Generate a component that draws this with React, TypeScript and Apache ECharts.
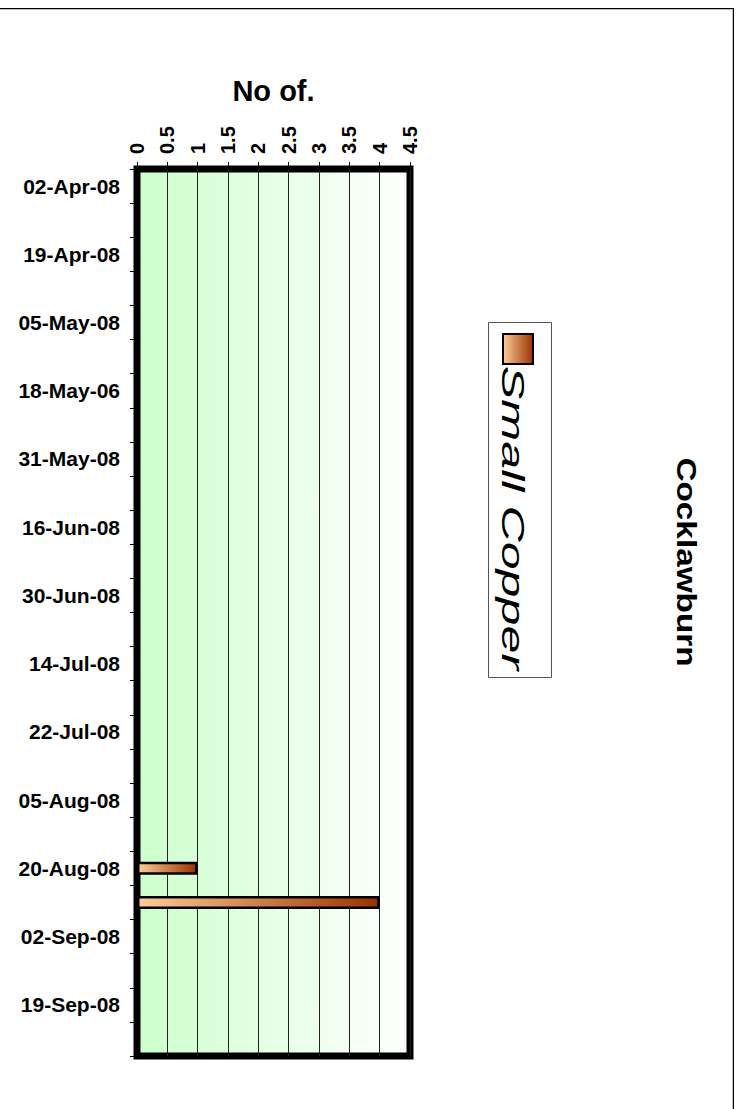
import React, { useEffect, useRef } from "react";
import * as echarts from "echarts";

// Survey dates (every other date is unlabelled on the axis)
const categories: string[] = [
  "02-Apr-08", "", "19-Apr-08", "", "05-May-08", "", "18-May-06", "",
  "31-May-08", "", "16-Jun-08", "", "30-Jun-08", "", "14-Jul-08", "",
  "22-Jul-08", "", "05-Aug-08", "", "20-Aug-08", "", "02-Sep-08", "",
  "19-Sep-08", "",
];

// Counts of Small Copper per survey
const smallCopper: number[] = [
  0, 0, 0, 0, 0, 0, 0, 0,
  0, 0, 0, 0, 0, 0, 0, 0,
  0, 0, 0, 0, 1, 4, 0, 0,
  0, 0,
];

const seriesName = "Small Copper";
const siteName = "Cocklawburn";
const valueAxisTitle = "No of.";
const valueMin = 0;
const valueMax = 4.5;
const valueStep = 0.5;

const FONT = 'Arial, "Liberation Sans", sans-serif';

const copperGradient = () =>
  new echarts.graphic.LinearGradient(0, 0, 1, 0, [
    { offset: 0, color: "#ffcc99" },
    { offset: 1, color: "#993300" },
  ]);

export default function App() {
  const ref = useRef<HTMLDivElement>(null);

  useEffect(() => {
    if (!ref.current) return;
    const chart = echarts.init(ref.current, undefined, { renderer: "svg" });

    const option: echarts.EChartsOption = {
      animation: false,
      backgroundColor: "#ffffff",
      grid: {
        left: 137,
        top: 169,
        width: 273,
        height: 887,
        show: true,
        borderColor: "#000000",
        borderWidth: 7,
        backgroundColor: new echarts.graphic.LinearGradient(0, 0, 1, 0, [
          { offset: 0, color: "#ccffcc" },
          { offset: 1, color: "#ffffff" },
        ]) as any,
        containLabel: false,
      },
      xAxis: {
        type: "value",
        position: "top",
        min: valueMin,
        max: valueMax,
        interval: valueStep,
        axisLine: { show: true, lineStyle: { color: "#000", width: 1 } },
        axisTick: { show: true, length: 7, lineStyle: { color: "#000" } },
        axisLabel: {
          rotate: -90,
          margin: 15,
          color: "#000",
          fontFamily: FONT,
          fontWeight: "bold",
          fontSize: 20,
        },
        splitLine: { show: true, lineStyle: { color: "#222", width: 1 } },
      },
      yAxis: {
        type: "category",
        data: categories,
        inverse: true,
        axisLine: { show: true, lineStyle: { color: "#000", width: 1 } },
        axisTick: {
          show: true,
          length: 7,
          interval: 0,
          alignWithLabel: false,
          lineStyle: { color: "#000" },
        },
        axisLabel: {
          interval: 1,
          margin: 17,
          color: "#000",
          fontFamily: FONT,
          fontWeight: "bold",
          fontSize: 21,
        },
        splitLine: { show: false },
      },
      series: [
        {
          name: seriesName,
          type: "bar",
          data: smallCopper,
          barWidth: 13,
          itemStyle: {
            color: copperGradient() as any,
            borderColor: "#000",
            borderWidth: 2.5,
          },
        },
      ],
      graphic: [
        // outer frame
        {
          type: "line",
          shape: { x1: 0, y1: 8.5, x2: 734, y2: 8.5 },
          style: { stroke: "#000", lineWidth: 1 },
        },
        {
          type: "line",
          shape: { x1: 0, y1: 9.5, x2: 733, y2: 9.5 },
          style: { stroke: "#c0c0c0", lineWidth: 1 },
        },
        {
          type: "line",
          shape: { x1: 733.5, y1: 8, x2: 733.5, y2: 1109 },
          style: { stroke: "#000", lineWidth: 1 },
        },
        {
          type: "line",
          shape: { x1: 732.5, y1: 10, x2: 732.5, y2: 1109 },
          style: { stroke: "#c0c0c0", lineWidth: 1 },
        },
        // value axis title
        {
          type: "text",
          x: 273.5,
          y: 91,
          style: {
            text: valueAxisTitle,
            align: "center",
            verticalAlign: "middle",
            fontFamily: FONT,
            fontWeight: "bold",
            fontSize: 29,
            fill: "#000",
          },
        },
        // legend box
        {
          type: "rect",
          shape: { x: 488.5, y: 322.5, width: 63, height: 355 },
          style: { fill: "#fff", stroke: "#555", lineWidth: 1 },
        },
        {
          type: "rect",
          shape: { x: 503, y: 334, width: 30, height: 30 },
          style: { fill: copperGradient() as any, stroke: "#000", lineWidth: 2 },
        },
        {
          type: "text",
          x: 513.5,
          y: 518,
          rotation: -Math.PI / 2,
          scaleX: 1.57,
          style: {
            text: seriesName,
            align: "center",
            verticalAlign: "middle",
            fontFamily: FONT,
            fontStyle: "italic",
            fontSize: 32,
            fill: "#000",
          },
        },
        // site name
        {
          type: "text",
          x: 687,
          y: 562,
          rotation: -Math.PI / 2,
          scaleX: 1.19,
          style: {
            text: siteName,
            align: "center",
            verticalAlign: "middle",
            fontFamily: FONT,
            fontWeight: "bold",
            fontSize: 28,
            fill: "#000",
          },
        },
      ],
    };

    chart.setOption(option);
    return () => chart.dispose();
  }, []);

  return (
    <div
      ref={ref}
      style={{
        position: "absolute",
        left: 0,
        top: 0,
        width: 740,
        height: 1109,
        background: "#fff",
      }}
    />
  );
}
